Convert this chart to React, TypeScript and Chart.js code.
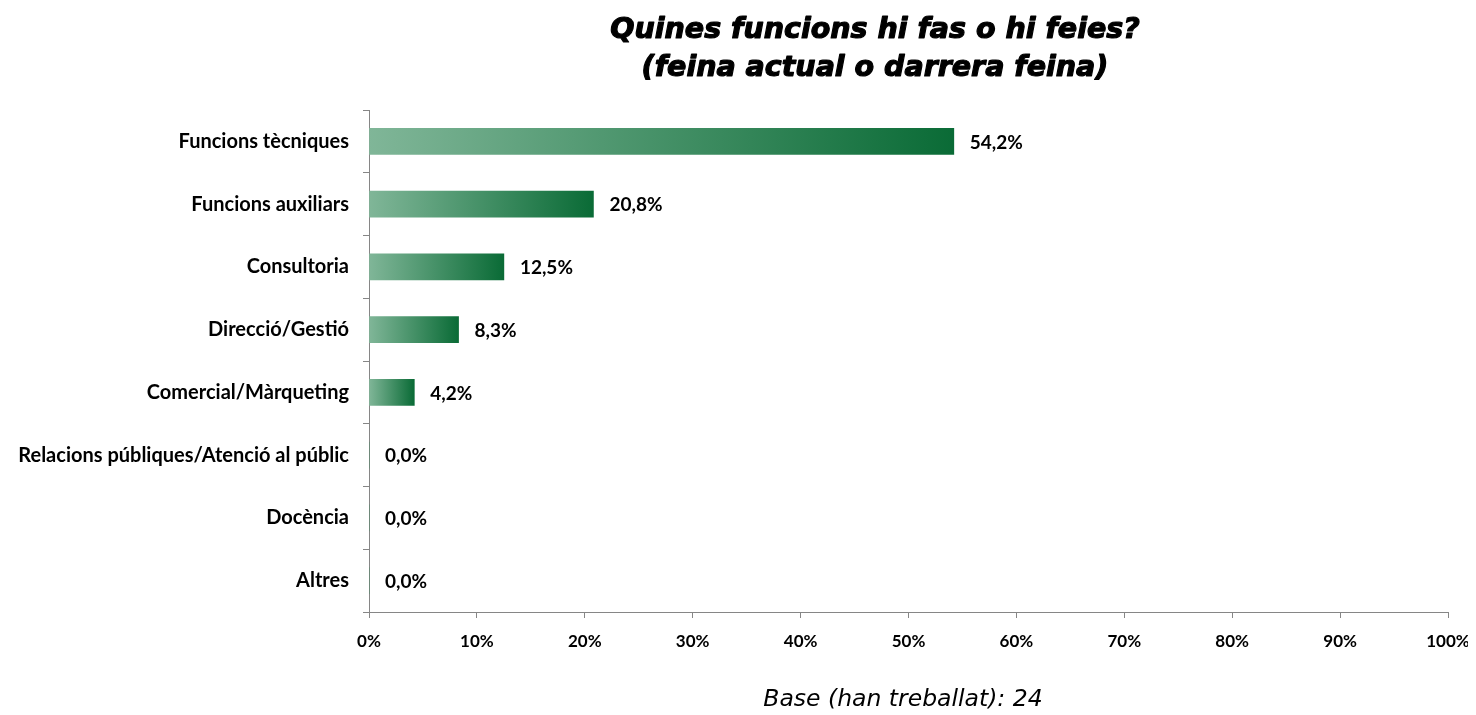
import React, { useEffect, useRef } from "react";
import { Chart, registerables } from "chart.js";

Chart.register(...registerables);

const categories = [
  "Funcions tècniques",
  "Funcions auxiliars",
  "Consultoria",
  "Direcció/Gestió",
  "Comercial/Màrqueting",
  "Relacions públiques/Atenció al públic",
  "Docència",
  "Altres",
];
const values = [54.2, 20.8, 12.5, 8.3, 4.2, 0, 0, 0];
const xTicks = [0, 10, 20, 30, 40, 50, 60, 70, 80, 90, 100];
const titleLines = ["Quines funcions hi fas o hi feies?", "(feina actual o darrera feina)"];
const footerText = "Base (han treballat): 24";

const LABEL_FONT = "Lato, 'Open Sans', sans-serif";

const textPlugin = {
  id: "texts",
  afterDatasetsDraw(chart: any) {
    const ctx = chart.ctx;
    const meta = chart.getDatasetMeta(0);
    ctx.save();
    ctx.fillStyle = "#000";
    ctx.font = `bold 19px ${LABEL_FONT}`;
    ctx.textAlign = "left";
    ctx.textBaseline = "middle";
    meta.data.forEach((el: any, i: number) => {
      const v = values[i];
      ctx.fillText(v.toFixed(1).replace(".", ",") + "%", el.x + 16, el.y + 1);
    });
    ctx.restore();
  },
  afterDraw(chart: any) {
    const ctx = chart.ctx;
    ctx.save();
    ctx.fillStyle = "#000";
    ctx.strokeStyle = "#000";
    ctx.lineWidth = 1.2;
    ctx.lineJoin = "round";
    ctx.textAlign = "center";
    ctx.textBaseline = "middle";
    ctx.font = "italic bold 28.5px 'DejaVu Sans', Verdana, sans-serif";
    ctx.fillText(titleLines[0], 867, 23);
    ctx.strokeText(titleLines[0], 867, 23);
    ctx.fillText(titleLines[1], 867, 61);
    ctx.strokeText(titleLines[1], 867, 61);
    ctx.font = "italic 23.5px 'DejaVu Sans', Verdana, sans-serif";
    ctx.fillText(footerText, 895, 692);
    ctx.restore();
  },
};

export default function App() {
  const ref = useRef<HTMLCanvasElement>(null);
  useEffect(() => {
    if (!ref.current) return;
    const chart = new Chart(ref.current, {
      type: "bar",
      data: {
        labels: categories,
        datasets: [
          {
            data: values,
            barThickness: 26,
            backgroundColor: (c: any) => {
              const ch = c.chart;
              const xs = ch.scales && ch.scales.x;
              if (!ch.chartArea || !xs || c.dataIndex === undefined) return "#3d8c5e";
              const x0 = xs.getPixelForValue(0);
              const x1 = xs.getPixelForValue(values[c.dataIndex]);
              if (x1 - x0 < 1) return "#3d8c5e";
              const g = ch.ctx.createLinearGradient(x0, 0, x1, 0);
              g.addColorStop(0, "#80b698");
              g.addColorStop(1, "#0a6b36");
              return g;
            },
          },
        ],
      },
      options: {
        indexAxis: "y",
        animation: false,
        responsive: true,
        maintainAspectRatio: false,
        layout: { padding: { top: 102, right: 20, left: 0, bottom: 0 } },
        plugins: {
          legend: { display: false },
          tooltip: { enabled: false },
          title: { display: false },
        },
        scales: {
          x: {
            min: 0,
            max: 100,
            afterBuildTicks: (s: any) => {
              s.ticks = xTicks.map((v) => ({ value: v }));
            },
            afterFit: (s: any) => {
              s.height = 103;
              s.paddingLeft = 0;
              s.paddingRight = 0;
            },
            grid: {
              drawOnChartArea: false,
              drawTicks: true,
              tickLength: 6,
              color: "#868686",
            },
            border: { display: true, color: "#868686", width: 1 },
            ticks: {
              color: "#000",
              padding: 13,
              font: { family: LABEL_FONT, weight: "bold", size: 17 },
              callback: (v: any) => v + "%",
            },
          },
          y: {
            afterFit: (s: any) => {
              s.width = 361;
              s.paddingTop = 0;
              s.paddingBottom = 0;
            },
            grid: {
              offset: true,
              drawOnChartArea: false,
              drawTicks: true,
              tickLength: 6,
              color: "#868686",
            },
            border: { display: true, color: "#868686", width: 1 },
            ticks: {
              color: "#000",
              padding: 14,
              font: { family: LABEL_FONT, weight: "bold", size: 20 },
            },
          },
        },
      },
      plugins: [textPlugin],
    } as any);
    return () => chart.destroy();
  }, []);
  return (
    <div style={{ width: 1460, height: 707, position: "relative" }}>
      <canvas ref={ref} />
    </div>
  );
}
